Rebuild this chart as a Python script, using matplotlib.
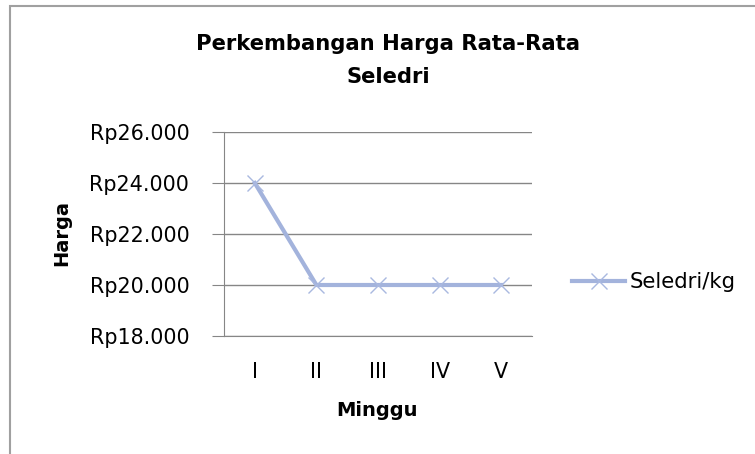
import matplotlib
matplotlib.use("Agg")
import matplotlib.pyplot as plt
from matplotlib.patches import Rectangle

plt.rcParams['font.family'] = ['DejaVu Sans']

categories = ["I", "II", "III", "IV", "V"]
values = [24000, 20000, 20000, 20000, 20000]
yticks = [18000, 20000, 22000, 24000, 26000]
ytick_labels = ["Rp18.000", "Rp20.000", "Rp22.000", "Rp24.000", "Rp26.000"]
series_name = "Seledri/kg"

W, H = 755, 454
fig = plt.figure(figsize=(W/100, H/100), dpi=100)

# frame border (partially cropped)
fig.patches.append(Rectangle((9.5/W, -0.1), 1.2, (H-6.5)/H + 0.1, transform=fig.transFigure,
                             fill=False, edgecolor="#a0a0a0", linewidth=1.5))

ax = fig.add_axes([224/W, 1-336/H, (532-224)/W, (336-132)/H])
x = list(range(len(categories)))
line_color = "#a3b3dc"
ax.plot(x, values, color=line_color, linewidth=3, marker='x', markersize=11,
        markeredgewidth=1.0, markeredgecolor="#a9b8e0", label=series_name, zorder=3)

ax.set_xlim(-0.5, 4.5)
ax.set_ylim(18000, 26000)
ax.set_yticks(yticks)
ax.set_yticklabels(ytick_labels)
ax.set_xticks(x)
ax.set_xticklabels(categories)
ax.yaxis.grid(True, color="#868686", linewidth=1)
ax.set_axisbelow(True)
for s in ["top", "right"]:
    ax.spines[s].set_visible(False)
ax.spines["left"].set_color("#868686")
ax.spines["bottom"].set_color("#868686")
ax.tick_params(axis='y', length=9, color="#868686", labelsize=14.9, pad=16)
ax.tick_params(axis='x', length=0, labelsize=14.9, pad=19)

fig.text(388/W, 1-44/H, "Perkembangan Harga Rata-Rata", ha='center', va='center',
         fontsize=15.2, fontweight='bold')
fig.text(388/W, 1-77/H, "Seledri", ha='center', va='center', fontsize=15.2, fontweight='bold')
fig.text(62/W, 1-233/H, "Harga", ha='center', va='center', rotation=90, fontsize=14,
         fontweight='bold')
fig.text(377/W, 1-411/H, "Minggu", ha='center', va='center', fontsize=14, fontweight='bold')

leg = ax.legend(loc='center left', bbox_to_anchor=(572/W, 1-282/H), bbox_transform=fig.transFigure,
                frameon=False, fontsize=15.3, handlelength=2.5, handletextpad=0.2, borderaxespad=0,
                borderpad=0)

fig.savefig("out.png", dpi=100)
